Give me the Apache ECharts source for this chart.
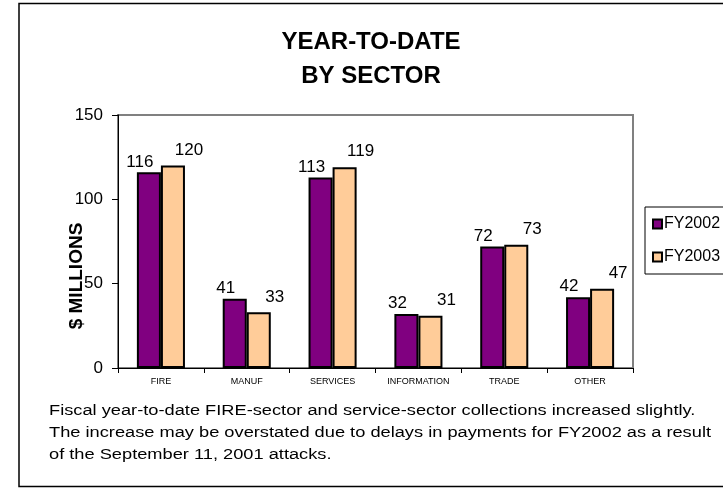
<!DOCTYPE html>
<html>
<head>
<meta charset="utf-8">
<script src="https://cdn.jsdelivr.net/npm/echarts@6/dist/echarts.min.js"></script>
<style>
html,body{margin:0;padding:0;background:#fff;}
#chart{width:723px;height:488px;}
</style>
</head>
<body>
<div id="chart"></div>
<script>
const categories = ['FIRE', 'MANUF', 'SERVICES', 'INFORMATION', 'TRADE', 'OTHER'];
const fy2002 = [116, 41, 113, 32, 72, 42];
const fy2003 = [120, 33, 119, 31, 73, 47];
const seriesNames = ['FY2002', 'FY2003'];
const yMin = 0, yMax = 150, yStep = 50;
const titleLines = ['YEAR-TO-DATE', 'BY SECTOR'];
const yAxisTitle = '$ MILLIONS';
const noteLines = [
  'Fiscal year-to-date FIRE-sector and service-sector collections increased slightly.',
  'The increase may be overstated due to delays in payments for FY2002 as a result',
  'of the September 11, 2001 attacks.'
];

const FONT = '"Liberation Sans", Arial, sans-serif';
const ctx = document.createElement('canvas').getContext('2d');
ctx.font = '14px "Liberation Sans", Arial, sans-serif';
const noteW = Math.max.apply(null, noteLines.map(function (l) { return ctx.measureText(l).width; }));
const noteScale = 662 / noteW;

const chart = echarts.init(document.getElementById('chart'), null, {renderer: 'canvas'});
chart.setOption({
  animation: false,
  backgroundColor: '#ffffff',
  title: {
    text: titleLines.join('\n'),
    left: 366,
    top: 20,
    textAlign: 'center',
    textStyle: {fontFamily: FONT, fontSize: 24, fontWeight: 'bold', color: '#000', lineHeight: 34}
  },
  grid: {
    left: 118, right: 90, top: 115, bottom: 120,
    show: true, borderColor: '#808080', borderWidth: 2, backgroundColor: 'transparent'
  },
  legend: {
    orient: 'vertical',
    left: 645, top: 207,
    data: seriesNames,
    icon: 'rect',
    itemWidth: 9, itemHeight: 9, itemGap: 17,
    padding: [9, 40, 9, 7],
    borderColor: '#000', borderWidth: 1,
    textStyle: {fontFamily: FONT, fontSize: 16, color: '#000', padding: [0, 0, 0, -3]}
  },
  xAxis: {
    type: 'category',
    data: categories,
    axisLine: {lineStyle: {color: '#000', width: 1}},
    axisTick: {show: true, length: 5, lineStyle: {color: '#000'}},
    axisLabel: {fontFamily: FONT, fontSize: 9, color: '#000', margin: 9, interval: 0}
  },
  yAxis: {
    type: 'value',
    min: yMin, max: yMax, interval: yStep,
    splitLine: {show: false},
    axisLine: {show: true, lineStyle: {color: '#000', width: 1}},
    axisTick: {show: true, length: 6, lineStyle: {color: '#000'}},
    axisLabel: {fontFamily: FONT, fontSize: 17, color: '#000', margin: 15}
  },
  series: [
    {
      name: seriesNames[0], type: 'bar', data: fy2002,
      barGap: '0%', barCategoryGap: '44%',
      itemStyle: {color: '#800080', borderColor: '#000', borderWidth: 2},
      label: {show: true, position: 'top', distance: 2, offset: [-9, 0],
        fontFamily: FONT, fontSize: 17, color: '#000'}
    },
    {
      name: seriesNames[1], type: 'bar', data: fy2003,
      barGap: '0%', barCategoryGap: '44%',
      itemStyle: {color: '#FFCC99', borderColor: '#000', borderWidth: 2},
      label: {show: true, position: 'top', distance: 7, offset: [16, 0],
        fontFamily: FONT, fontSize: 17, color: '#000'}
    }
  ],
  graphic: [
    {
      type: 'rect', silent: true, z: -1,
      shape: {x: 19, y: 3.5, width: 800, height: 483},
      style: {fill: 'none', stroke: '#000', lineWidth: 1.5}
    },
    {
      type: 'text', silent: true,
      x: 77, y: 276, rotation: Math.PI / 2,
      style: {text: yAxisTitle, font: 'bold 19px ' + FONT, fill: '#000',
        textAlign: 'center', textVerticalAlign: 'middle'}
    },
    {
      type: 'text', silent: true,
      x: 49, y: 400, scaleX: noteScale, scaleY: 1,
      style: {text: noteLines.join('\n'), font: '14px ' + FONT, fill: '#000',
        lineHeight: 22, textAlign: 'left', textVerticalAlign: 'top'}
    }
  ]
});
</script>
</body>
</html>
